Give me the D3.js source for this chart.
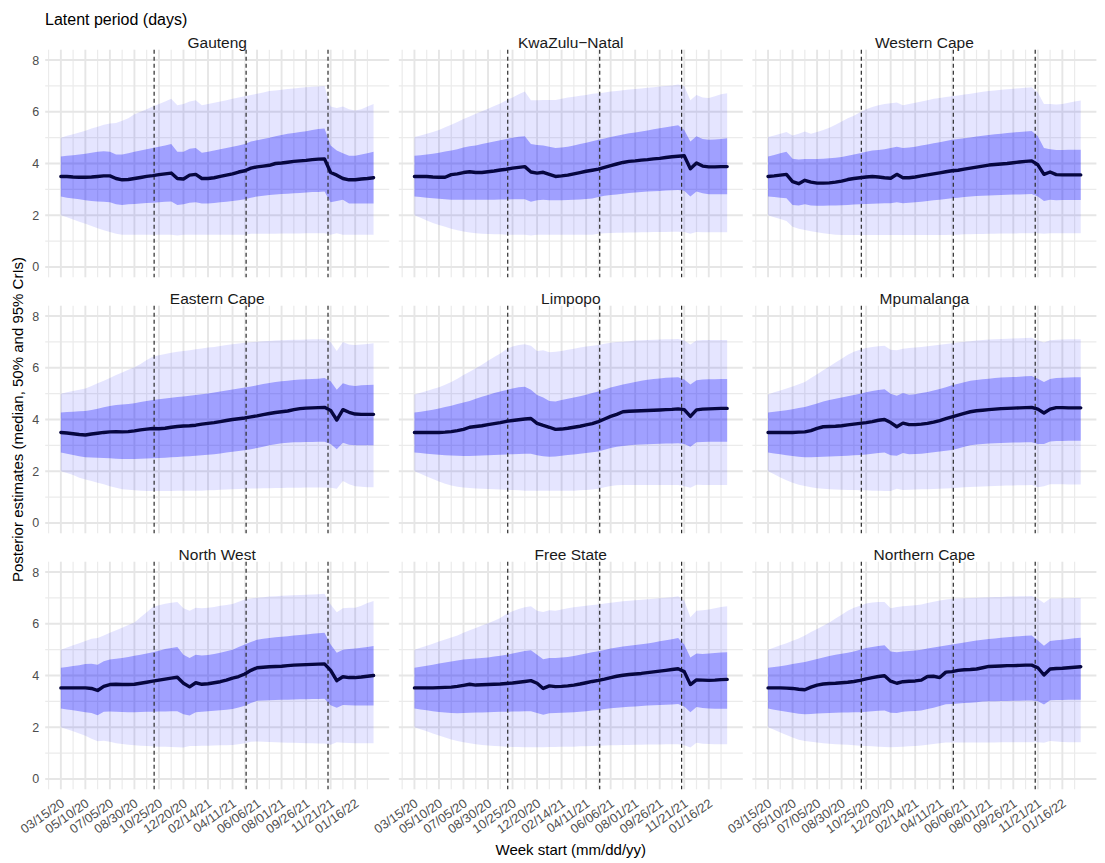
<!DOCTYPE html>
<html><head><meta charset="utf-8">
<script src="https://cdn.jsdelivr.net/npm/d3@7"></script>
<style>
body{margin:0;background:#fff}
svg{display:block}
text{font-family:"Liberation Sans",Arial,Helvetica,sans-serif}
</style>
</head><body>
<svg id="c" width="1105" height="863"></svg>
<script>
// ---------------- DATA ----------------
const weeks = ["2020-03-15","2020-03-29","2020-04-12","2020-04-26","2020-05-10","2020-05-24","2020-06-07","2020-06-21","2020-07-05","2020-07-19","2020-08-02","2020-08-16","2020-08-30","2020-09-13","2020-09-27","2020-10-11","2020-10-25","2020-11-08","2020-11-22","2020-12-06","2020-12-20","2021-01-03","2021-01-17","2021-01-31","2021-02-14","2021-02-28","2021-03-14","2021-03-28","2021-04-11","2021-04-25","2021-05-09","2021-05-23","2021-06-06","2021-06-20","2021-07-04","2021-07-18","2021-08-01","2021-08-15","2021-08-29","2021-09-12","2021-09-26","2021-10-10","2021-10-24","2021-11-07","2021-11-21","2021-12-05","2021-12-19","2022-01-02","2022-01-16","2022-01-30","2022-02-13","2022-02-27"];
const tickDates = ["2020-03-15","2020-05-10","2020-07-05","2020-08-30","2020-10-25","2020-12-20","2021-02-14","2021-04-11","2021-06-06","2021-08-01","2021-09-26","2021-11-21","2022-01-16"];
const tickLabels = ["03/15/20","05/10/20","07/05/20","08/30/20","10/25/20","12/20/20","02/14/21","04/11/21","06/06/21","08/01/21","09/26/21","11/21/21","01/16/22"];
const yTicks = [0,2,4,6,8];
const vlineDates = ["2020-10-14","2021-05-12","2021-11-15"];
const provinces = ["Gauteng","KwaZulu\u2212Natal","Western Cape","Eastern Cape","Limpopo","Mpumalanga","North West","Free State","Northern Cape"];

const gautengMed  = [3.5,3.5,3.48,3.47,3.47,3.48,3.5,3.52,3.52,3.42,3.37,3.38,3.42,3.46,3.5,3.53,3.57,3.6,3.63,3.42,3.4,3.55,3.58,3.42,3.42,3.45,3.5,3.55,3.6,3.67,3.72,3.82,3.87,3.9,3.93,4.0,4.02,4.05,4.08,4.1,4.12,4.15,4.17,4.18,3.65,3.55,3.42,3.37,3.37,3.4,3.42,3.45];
const gautengLo50 = [2.72,2.68,2.65,2.62,2.58,2.55,2.53,2.52,2.5,2.42,2.4,2.42,2.43,2.45,2.47,2.48,2.5,2.52,2.53,2.4,2.42,2.48,2.5,2.45,2.45,2.47,2.5,2.52,2.55,2.58,2.62,2.68,2.72,2.75,2.78,2.8,2.82,2.83,2.85,2.86,2.88,2.9,2.9,2.92,2.5,2.55,2.6,2.45,2.45,2.45,2.45,2.45];
const gautengHi50 = [4.27,4.3,4.32,4.35,4.38,4.42,4.45,4.47,4.45,4.35,4.35,4.4,4.45,4.5,4.55,4.6,4.65,4.7,4.75,4.45,4.45,4.57,4.6,4.42,4.45,4.5,4.55,4.6,4.65,4.7,4.75,4.85,4.9,4.95,5.0,5.05,5.1,5.15,5.18,5.22,5.25,5.3,5.33,5.35,4.7,4.5,4.4,4.3,4.3,4.35,4.4,4.45];
const gautengLo95 = [2.0,1.92,1.83,1.75,1.67,1.58,1.5,1.42,1.35,1.28,1.25,1.25,1.25,1.25,1.25,1.25,1.25,1.25,1.25,1.22,1.25,1.25,1.25,1.25,1.25,1.25,1.25,1.25,1.25,1.25,1.25,1.28,1.28,1.28,1.28,1.28,1.29,1.29,1.29,1.29,1.3,1.3,1.3,1.3,1.25,1.3,1.25,1.25,1.25,1.25,1.25,1.25];
const gautengHi95 = [5.0,5.07,5.13,5.2,5.27,5.35,5.42,5.5,5.55,5.57,5.65,5.75,5.9,6.0,6.1,6.2,6.3,6.4,6.5,6.25,6.3,6.4,6.45,6.25,6.3,6.35,6.4,6.45,6.5,6.55,6.6,6.65,6.7,6.75,6.8,6.82,6.85,6.88,6.9,6.93,6.95,6.97,6.98,7.0,6.2,6.15,6.2,6.1,6.05,6.1,6.2,6.3];

const kznMed  = [3.5,3.5,3.5,3.48,3.47,3.47,3.57,3.6,3.65,3.68,3.65,3.65,3.68,3.71,3.75,3.78,3.82,3.85,3.88,3.67,3.63,3.66,3.58,3.5,3.52,3.55,3.6,3.65,3.7,3.74,3.78,3.85,3.92,3.98,4.04,4.08,4.1,4.13,4.15,4.18,4.2,4.23,4.26,4.28,4.3,3.8,4.02,3.9,3.87,3.87,3.88,3.88];
const kznLo50 = [2.72,2.7,2.68,2.66,2.64,2.62,2.6,2.6,2.6,2.6,2.6,2.6,2.6,2.6,2.61,2.61,2.62,2.62,2.62,2.52,2.58,2.6,2.58,2.58,2.58,2.59,2.6,2.61,2.63,2.65,2.7,2.75,2.78,2.8,2.83,2.86,2.88,2.9,2.92,2.93,2.94,2.96,2.97,2.98,2.95,2.72,2.92,2.85,2.81,2.81,2.81,2.81];
const kznHi50 = [4.3,4.32,4.35,4.38,4.42,4.46,4.5,4.55,4.62,4.67,4.7,4.75,4.8,4.85,4.9,4.95,5.0,5.03,5.05,4.75,4.72,4.7,4.65,4.6,4.62,4.65,4.7,4.75,4.8,4.86,4.92,4.97,5.02,5.07,5.12,5.17,5.2,5.24,5.28,5.32,5.36,5.4,5.44,5.48,5.3,4.85,5.05,4.95,4.92,4.93,4.95,4.98];
const kznLo95 = [2.0,1.9,1.8,1.7,1.62,1.55,1.48,1.42,1.37,1.33,1.3,1.28,1.27,1.26,1.26,1.25,1.25,1.25,1.25,1.22,1.25,1.25,1.25,1.25,1.25,1.25,1.25,1.25,1.25,1.25,1.28,1.3,1.31,1.32,1.32,1.33,1.33,1.34,1.34,1.35,1.35,1.35,1.36,1.36,1.35,1.28,1.35,1.34,1.34,1.34,1.34,1.34];
const kznHi95 = [5.02,5.08,5.15,5.22,5.3,5.4,5.5,5.6,5.72,5.82,5.92,6.02,6.12,6.22,6.32,6.45,6.55,6.68,6.78,6.45,6.45,6.46,6.46,6.46,6.5,6.55,6.58,6.62,6.65,6.7,6.72,6.75,6.78,6.8,6.83,6.86,6.88,6.9,6.93,6.95,6.98,7.0,7.02,7.05,7.0,6.45,6.65,6.55,6.53,6.6,6.68,6.72];

const wcapeMed  = [3.5,3.52,3.55,3.58,3.3,3.22,3.35,3.28,3.24,3.24,3.25,3.28,3.32,3.38,3.42,3.45,3.48,3.5,3.48,3.45,3.43,3.58,3.45,3.45,3.48,3.52,3.56,3.6,3.64,3.68,3.72,3.74,3.78,3.82,3.86,3.9,3.94,3.96,3.98,4.0,4.03,4.06,4.08,4.1,3.95,3.58,3.67,3.57,3.56,3.56,3.56,3.56];
const wcapeLo50 = [2.72,2.7,2.68,2.66,2.4,2.38,2.42,2.38,2.37,2.37,2.38,2.38,2.39,2.4,2.41,2.42,2.43,2.44,2.45,2.46,2.46,2.5,2.46,2.48,2.5,2.52,2.55,2.58,2.6,2.63,2.66,2.68,2.7,2.72,2.74,2.75,2.76,2.77,2.78,2.79,2.8,2.8,2.81,2.82,2.72,2.55,2.6,2.58,2.59,2.59,2.59,2.59];
const wcapeHi50 = [4.27,4.33,4.4,4.45,4.18,4.15,4.17,4.17,4.17,4.18,4.2,4.22,4.25,4.3,4.35,4.4,4.45,4.5,4.52,4.55,4.6,4.65,4.6,4.62,4.65,4.7,4.73,4.78,4.82,4.87,4.92,4.95,4.98,5.01,5.04,5.07,5.1,5.13,5.15,5.18,5.2,5.22,5.24,5.26,5.05,4.6,4.55,4.52,4.52,4.53,4.53,4.53];
const wcapeLo95 = [2.0,1.92,1.85,1.78,1.55,1.48,1.43,1.38,1.34,1.3,1.27,1.25,1.24,1.24,1.24,1.24,1.24,1.24,1.24,1.24,1.24,1.24,1.24,1.24,1.24,1.24,1.24,1.24,1.24,1.24,1.25,1.25,1.26,1.26,1.27,1.27,1.28,1.28,1.29,1.29,1.29,1.3,1.3,1.3,1.3,1.28,1.3,1.3,1.3,1.3,1.3,1.3];
const wcapeHi95 = [5.02,5.08,5.15,5.22,5.08,5.15,5.24,5.15,5.22,5.3,5.38,5.5,5.62,5.75,5.85,5.98,6.1,6.18,6.25,6.3,6.33,6.36,6.25,6.3,6.35,6.4,6.45,6.5,6.53,6.57,6.6,6.63,6.67,6.7,6.74,6.77,6.8,6.82,6.85,6.87,6.89,6.91,6.93,6.95,6.75,6.3,6.3,6.28,6.3,6.35,6.4,6.44];

const ecapeMed  = [3.5,3.48,3.45,3.42,3.4,3.44,3.47,3.5,3.52,3.53,3.52,3.53,3.56,3.6,3.63,3.65,3.64,3.66,3.7,3.73,3.75,3.76,3.78,3.82,3.85,3.88,3.92,3.96,4.0,4.03,4.06,4.1,4.14,4.19,4.23,4.27,4.3,4.33,4.38,4.42,4.44,4.45,4.46,4.47,4.35,3.98,4.38,4.28,4.21,4.2,4.2,4.2];
const ecapeLo50 = [2.72,2.68,2.63,2.58,2.54,2.53,2.52,2.51,2.5,2.48,2.47,2.47,2.47,2.48,2.49,2.5,2.51,2.52,2.54,2.55,2.57,2.58,2.6,2.62,2.64,2.66,2.69,2.72,2.75,2.78,2.81,2.85,2.9,2.95,3.0,3.04,3.08,3.1,3.12,3.12,3.13,3.13,3.14,3.14,3.05,2.85,3.1,3.02,3.0,3.0,3.0,3.0];
const ecapeHi50 = [4.27,4.29,4.3,4.32,4.33,4.37,4.42,4.47,4.52,4.56,4.58,4.6,4.63,4.68,4.72,4.75,4.78,4.81,4.84,4.87,4.89,4.92,4.95,4.98,5.01,5.04,5.08,5.12,5.16,5.2,5.24,5.28,5.32,5.37,5.41,5.45,5.48,5.5,5.53,5.55,5.56,5.57,5.58,5.6,5.48,5.15,5.4,5.32,5.3,5.32,5.33,5.34];
const ecapeLo95 = [2.0,1.93,1.85,1.75,1.68,1.62,1.55,1.5,1.42,1.36,1.3,1.28,1.26,1.25,1.24,1.24,1.24,1.24,1.24,1.25,1.25,1.25,1.25,1.25,1.26,1.26,1.28,1.29,1.3,1.31,1.32,1.33,1.33,1.34,1.34,1.35,1.35,1.36,1.36,1.36,1.37,1.37,1.37,1.37,1.36,1.32,1.62,1.5,1.42,1.4,1.38,1.38];
const ecapeHi95 = [5.0,5.05,5.1,5.15,5.2,5.3,5.4,5.5,5.6,5.72,5.82,5.92,6.02,6.15,6.3,6.43,6.48,6.53,6.58,6.62,6.65,6.68,6.72,6.75,6.78,6.8,6.84,6.88,6.91,6.94,6.97,6.99,7.01,7.03,7.04,7.05,7.06,7.07,7.08,7.08,7.09,7.1,7.1,7.1,7.0,6.65,7.0,6.9,6.88,6.9,6.92,6.95];

const limpopoMed  = [3.5,3.5,3.5,3.5,3.5,3.51,3.53,3.57,3.62,3.7,3.73,3.76,3.8,3.84,3.88,3.93,3.96,3.99,4.02,4.04,3.85,3.77,3.7,3.62,3.63,3.66,3.7,3.74,3.79,3.84,3.92,4.02,4.12,4.2,4.3,4.32,4.33,4.34,4.35,4.36,4.37,4.38,4.39,4.41,4.38,4.12,4.37,4.4,4.41,4.42,4.43,4.43];
const limpopoLo50 = [2.72,2.7,2.68,2.66,2.64,2.62,2.61,2.6,2.59,2.59,2.6,2.61,2.62,2.63,2.64,2.65,2.66,2.67,2.68,2.68,2.62,2.58,2.56,2.57,2.6,2.63,2.65,2.68,2.7,2.73,2.76,2.83,2.9,2.95,2.98,3.0,3.02,3.03,3.04,3.05,3.06,3.07,3.07,3.08,3.05,2.95,3.12,3.13,3.14,3.14,3.14,3.14];
const limpopoHi50 = [4.27,4.3,4.34,4.38,4.43,4.48,4.53,4.6,4.66,4.72,4.8,4.88,4.95,5.02,5.08,5.14,5.2,5.25,5.27,5.15,4.95,4.85,4.72,4.7,4.75,4.8,4.85,4.9,4.96,5.02,5.08,5.16,5.24,5.3,5.35,5.4,5.45,5.5,5.54,5.57,5.59,5.61,5.62,5.63,5.55,5.35,5.52,5.55,5.56,5.56,5.57,5.57];
const limpopoLo95 = [2.0,1.9,1.8,1.7,1.6,1.52,1.45,1.4,1.37,1.35,1.33,1.32,1.31,1.3,1.29,1.28,1.27,1.26,1.25,1.25,1.25,1.25,1.25,1.25,1.25,1.25,1.25,1.26,1.27,1.29,1.32,1.38,1.43,1.46,1.47,1.47,1.47,1.47,1.47,1.47,1.47,1.47,1.47,1.47,1.42,1.36,1.48,1.47,1.47,1.47,1.47,1.47];
const limpopoHi95 = [4.97,5.03,5.1,5.18,5.25,5.34,5.45,5.58,5.72,5.85,5.98,6.12,6.27,6.42,6.55,6.72,6.82,6.88,6.91,6.85,6.65,6.68,6.6,6.62,6.65,6.7,6.74,6.78,6.82,6.85,6.88,6.93,6.97,7.0,7.01,7.03,7.05,7.06,7.07,7.08,7.09,7.1,7.1,7.11,7.05,6.9,7.05,7.07,7.07,7.07,7.07,7.07];

const mpumaMed  = [3.5,3.5,3.5,3.5,3.5,3.51,3.52,3.57,3.66,3.72,3.73,3.74,3.76,3.79,3.82,3.85,3.88,3.92,3.97,4.0,3.88,3.72,3.86,3.8,3.8,3.82,3.85,3.9,3.96,4.03,4.1,4.17,4.24,4.3,4.34,4.36,4.38,4.4,4.42,4.43,4.44,4.45,4.46,4.47,4.4,4.25,4.4,4.46,4.46,4.45,4.45,4.45];
const mpumaLo50 = [2.72,2.69,2.66,2.62,2.59,2.56,2.54,2.54,2.55,2.56,2.57,2.58,2.59,2.6,2.62,2.63,2.65,2.68,2.7,2.72,2.62,2.6,2.7,2.66,2.67,2.68,2.7,2.73,2.76,2.79,2.82,2.88,2.95,3.0,3.03,3.05,3.07,3.08,3.09,3.1,3.11,3.11,3.12,3.12,3.05,3.05,3.15,3.17,3.17,3.18,3.18,3.18];
const mpumaHi50 = [4.27,4.3,4.33,4.36,4.4,4.44,4.48,4.55,4.62,4.7,4.75,4.8,4.85,4.9,4.95,5.0,5.05,5.1,5.14,5.17,5.0,4.92,5.02,4.96,4.98,5.02,5.06,5.12,5.18,5.25,5.32,5.38,5.44,5.5,5.53,5.56,5.58,5.6,5.62,5.63,5.64,5.65,5.67,5.68,5.58,5.45,5.57,5.6,5.61,5.62,5.63,5.63];
const mpumaLo95 = [2.0,1.88,1.76,1.65,1.55,1.48,1.43,1.38,1.34,1.32,1.3,1.29,1.28,1.27,1.27,1.26,1.26,1.25,1.25,1.24,1.24,1.32,1.27,1.28,1.29,1.3,1.3,1.31,1.32,1.33,1.34,1.36,1.38,1.39,1.4,1.41,1.42,1.43,1.44,1.45,1.45,1.46,1.46,1.47,1.38,1.42,1.5,1.5,1.5,1.49,1.49,1.49];
const mpumaHi95 = [4.97,5.05,5.12,5.2,5.28,5.36,5.45,5.6,5.75,5.9,6.05,6.2,6.35,6.5,6.62,6.7,6.76,6.8,6.83,6.85,6.7,6.68,6.74,6.76,6.78,6.8,6.83,6.86,6.89,6.92,6.95,6.98,7.01,7.03,7.05,7.07,7.09,7.1,7.11,7.12,7.13,7.14,7.15,7.16,7.05,6.98,7.06,7.08,7.09,7.1,7.1,7.1];

const nwestMed  = [3.52,3.52,3.52,3.52,3.52,3.5,3.42,3.58,3.65,3.66,3.65,3.65,3.66,3.7,3.74,3.78,3.82,3.86,3.9,3.93,3.7,3.56,3.72,3.66,3.68,3.72,3.76,3.82,3.9,3.96,4.06,4.2,4.3,4.32,4.34,4.35,4.36,4.38,4.4,4.41,4.42,4.43,4.44,4.45,4.2,3.8,3.95,3.92,3.92,3.94,3.97,4.0];
const nwestLo50 = [2.72,2.69,2.66,2.62,2.58,2.55,2.46,2.6,2.61,2.6,2.59,2.58,2.58,2.59,2.6,2.6,2.61,2.61,2.62,2.62,2.5,2.45,2.58,2.6,2.62,2.64,2.66,2.68,2.7,2.76,2.83,2.94,3.02,3.03,3.04,3.05,3.06,3.06,3.07,3.08,3.08,3.09,3.09,3.1,2.85,2.75,2.86,2.85,2.84,2.84,2.84,2.84];
const nwestHi50 = [4.3,4.33,4.37,4.4,4.44,4.45,4.42,4.55,4.62,4.65,4.68,4.72,4.76,4.8,4.85,4.9,4.96,5.02,5.06,5.1,4.8,4.68,4.8,4.77,4.79,4.83,4.88,4.94,5.0,5.1,5.2,5.3,5.38,5.42,5.45,5.48,5.5,5.52,5.55,5.57,5.59,5.61,5.63,5.65,5.2,4.88,5.0,5.02,5.04,5.07,5.1,5.14];
const nwestLo95 = [2.0,1.92,1.84,1.76,1.67,1.55,1.46,1.48,1.44,1.38,1.35,1.32,1.3,1.28,1.27,1.26,1.25,1.25,1.24,1.23,1.22,1.27,1.27,1.28,1.28,1.29,1.3,1.3,1.31,1.34,1.38,1.44,1.45,1.44,1.43,1.42,1.41,1.4,1.4,1.39,1.38,1.38,1.37,1.37,1.32,1.42,1.4,1.39,1.38,1.38,1.38,1.38];
const nwestHi95 = [5.0,5.08,5.17,5.25,5.33,5.42,5.45,5.55,5.65,5.75,5.85,5.95,6.05,6.25,6.45,6.65,6.72,6.77,6.81,6.84,6.6,6.5,6.62,6.6,6.62,6.65,6.7,6.73,6.76,6.85,6.94,6.98,7.01,7.03,7.05,7.06,7.08,7.09,7.1,7.11,7.12,7.13,7.14,7.16,6.75,6.45,6.6,6.62,6.62,6.7,6.8,6.88];

const fstateMed  = [3.52,3.52,3.52,3.52,3.53,3.54,3.55,3.58,3.62,3.66,3.63,3.64,3.65,3.66,3.67,3.69,3.71,3.74,3.77,3.8,3.7,3.5,3.6,3.57,3.58,3.6,3.63,3.67,3.72,3.77,3.81,3.86,3.92,3.97,4.01,4.04,4.06,4.08,4.11,4.14,4.17,4.2,4.23,4.26,4.15,3.65,3.83,3.82,3.81,3.82,3.84,3.85];
const fstateLo50 = [2.72,2.69,2.66,2.62,2.59,2.57,2.55,2.54,2.55,2.56,2.57,2.57,2.58,2.59,2.6,2.6,2.61,2.61,2.62,2.62,2.55,2.48,2.54,2.55,2.56,2.57,2.58,2.6,2.62,2.65,2.67,2.7,2.73,2.75,2.77,2.79,2.8,2.82,2.84,2.85,2.86,2.87,2.88,2.9,2.8,2.58,2.78,2.74,2.72,2.71,2.71,2.71];
const fstateHi50 = [4.3,4.34,4.38,4.42,4.46,4.5,4.54,4.58,4.62,4.64,4.66,4.68,4.7,4.73,4.76,4.8,4.85,4.9,4.95,4.98,4.8,4.63,4.68,4.68,4.7,4.72,4.75,4.8,4.85,4.9,4.94,4.99,5.04,5.08,5.12,5.15,5.18,5.21,5.24,5.28,5.32,5.36,5.4,5.45,5.2,4.7,4.85,4.83,4.85,4.87,4.89,4.9];
const fstateLo95 = [2.0,1.92,1.84,1.76,1.68,1.6,1.53,1.47,1.42,1.38,1.34,1.31,1.29,1.27,1.26,1.25,1.24,1.24,1.23,1.23,1.23,1.23,1.24,1.24,1.25,1.25,1.25,1.26,1.26,1.27,1.28,1.29,1.3,1.3,1.31,1.31,1.32,1.32,1.33,1.33,1.33,1.34,1.34,1.34,1.3,1.22,1.4,1.36,1.35,1.34,1.34,1.34];
const fstateHi95 = [5.0,5.07,5.15,5.23,5.31,5.39,5.47,5.55,5.65,5.75,5.84,5.93,6.02,6.12,6.22,6.38,6.48,6.57,6.64,6.68,6.5,6.46,6.52,6.5,6.55,6.6,6.64,6.67,6.7,6.73,6.75,6.78,6.81,6.84,6.87,6.89,6.91,6.93,6.95,6.97,6.99,7.01,7.03,7.06,6.9,6.25,6.5,6.52,6.55,6.6,6.65,6.68];

const ncapeMed  = [3.52,3.52,3.52,3.51,3.5,3.47,3.45,3.55,3.63,3.67,3.69,3.7,3.72,3.74,3.77,3.81,3.87,3.92,3.96,3.99,3.78,3.7,3.76,3.78,3.79,3.82,3.96,3.97,3.92,4.13,4.15,4.2,4.22,4.23,4.25,4.3,4.35,4.36,4.37,4.38,4.38,4.39,4.4,4.4,4.3,4.02,4.25,4.27,4.28,4.3,4.32,4.34];
const ncapeLo50 = [2.72,2.68,2.64,2.6,2.56,2.52,2.5,2.51,2.53,2.54,2.55,2.56,2.57,2.57,2.58,2.58,2.6,2.62,2.64,2.65,2.56,2.55,2.6,2.62,2.63,2.65,2.7,2.75,2.82,2.89,2.9,2.92,2.94,2.95,2.97,2.99,3.0,3.0,3.01,3.01,3.02,3.02,3.03,3.03,3.0,2.88,3.04,3.05,3.05,3.06,3.06,3.06];
const ncapeHi50 = [4.3,4.33,4.36,4.4,4.44,4.48,4.52,4.58,4.64,4.7,4.75,4.8,4.84,4.88,4.93,5.0,5.06,5.1,5.14,5.17,4.93,4.9,4.93,4.95,4.97,5.0,5.04,5.08,5.12,5.16,5.2,5.24,5.28,5.31,5.35,5.38,5.41,5.43,5.46,5.48,5.5,5.52,5.54,5.55,5.35,5.15,5.33,5.36,5.38,5.41,5.44,5.46];
const ncapeLo95 = [2.0,1.9,1.8,1.7,1.6,1.52,1.47,1.44,1.41,1.38,1.36,1.34,1.33,1.32,1.3,1.28,1.27,1.26,1.25,1.24,1.23,1.24,1.25,1.26,1.27,1.29,1.32,1.35,1.38,1.41,1.41,1.41,1.41,1.41,1.41,1.41,1.41,1.41,1.42,1.42,1.42,1.42,1.42,1.42,1.42,1.4,1.47,1.45,1.43,1.42,1.42,1.42];
const ncapeHi95 = [5.0,5.08,5.17,5.25,5.34,5.43,5.55,5.68,5.8,5.92,6.05,6.2,6.35,6.5,6.62,6.7,6.78,6.82,6.84,6.84,6.6,6.65,6.68,6.7,6.72,6.75,6.8,6.85,6.9,6.94,6.97,6.98,6.99,7.0,7.01,7.02,7.03,7.04,7.04,7.05,7.05,7.06,7.06,7.07,6.97,6.8,6.98,6.98,6.99,6.99,7.0,7.0];

// ---------------- BUILD TABLE ----------------
const seriesSets = [
  [gautengLo95,gautengLo50,gautengMed,gautengHi50,gautengHi95],
  [kznLo95,kznLo50,kznMed,kznHi50,kznHi95],
  [wcapeLo95,wcapeLo50,wcapeMed,wcapeHi50,wcapeHi95],
  [ecapeLo95,ecapeLo50,ecapeMed,ecapeHi50,ecapeHi95],
  [limpopoLo95,limpopoLo50,limpopoMed,limpopoHi50,limpopoHi95],
  [mpumaLo95,mpumaLo50,mpumaMed,mpumaHi50,mpumaHi95],
  [nwestLo95,nwestLo50,nwestMed,nwestHi50,nwestHi95],
  [fstateLo95,fstateLo50,fstateMed,fstateHi50,fstateHi95],
  [ncapeLo95,ncapeLo50,ncapeMed,ncapeHi50,ncapeHi95]
];
const parse = d3.utcParse("%Y-%m-%d");
const dates = weeks.map(parse);
const panels = provinces.map((name,k)=>({
  name,
  rows: dates.map((d,i)=>({date:d, lo95:seriesSets[k][0][i], lo50:seriesSets[k][1][i], med:seriesSets[k][2][i], hi50:seriesSets[k][3][i], hi95:seriesSets[k][4][i]}))
}));

// ---------------- LAYOUT ----------------
const svg = d3.select("#c");
const PW = 344, PH = 227.6;
const colL = [45.2, 398.8, 752.4];
const rowT = [49.7, 305.7, 561.7];
const d0 = dates[0], d1 = dates[dates.length-1];
const span = d1 - d0;
const xDomain = [new Date(+d0 - 0.05*span), new Date(+d1 + 0.05*span)];
const yDomain = [-0.4, 8.4];
const majorDates = tickDates.map(parse);
const gridDates = d3.range(-1, 26).map(k => d3.utcDay.offset(majorDates[0], 28*k));
const minorDates = gridDates.filter(d => !majorDates.some(m => +m === +d));
const yMinor = [1,3,5,7];
const FONT = '"Liberation Sans",Arial,Helvetica,sans-serif';

panels.forEach((p,k)=>{
  const c = k % 3, r = Math.floor(k/3);
  const x = d3.scaleUtc().domain(xDomain).range([colL[c], colL[c]+PW]);
  const y = d3.scaleLinear().domain(yDomain).range([rowT[r]+PH, rowT[r]]);
  const g = svg.append("g");
  const [x0,x1] = x.range(), [yb,yt] = y.range();
  const inX = d => x(d) >= x0 && x(d) <= x1;

  // grid
  g.selectAll(".hmin").data(yMinor).join("line")
    .attr("x1",x0).attr("x2",x1).attr("y1",d=>y(d)).attr("y2",d=>y(d))
    .attr("stroke","#EBEBEB").attr("stroke-width",1.2);
  g.selectAll(".vmin").data(minorDates.filter(inX)).join("line")
    .attr("y1",yt).attr("y2",yb).attr("x1",d=>x(d)).attr("x2",d=>x(d))
    .attr("stroke","#EBEBEB").attr("stroke-width",1.2);
  g.selectAll(".hmaj").data(yTicks).join("line")
    .attr("x1",x0).attr("x2",x1).attr("y1",d=>y(d)).attr("y2",d=>y(d))
    .attr("stroke","#E6E6E6").attr("stroke-width",1.9);
  g.selectAll(".vmaj").data(majorDates).join("line")
    .attr("y1",yt).attr("y2",yb).attr("x1",d=>x(d)).attr("x2",d=>x(d))
    .attr("stroke","#E6E6E6").attr("stroke-width",1.9);

  // ribbons
  const area95 = d3.area().x(d=>x(d.date)).y0(d=>y(d.lo95)).y1(d=>y(d.hi95));
  const area50 = d3.area().x(d=>x(d.date)).y0(d=>y(d.lo50)).y1(d=>y(d.hi50));
  g.append("path").datum(p.rows).attr("d",area95).attr("fill","#0000FF").attr("fill-opacity",0.1);
  g.append("path").datum(p.rows).attr("d",area50).attr("fill","#0000FF").attr("fill-opacity",0.3);

  // dashed lines
  g.selectAll(".vl").data(vlineDates.map(parse)).join("line")
    .attr("x1",d=>x(d)).attr("x2",d=>x(d)).attr("y1",yt).attr("y2",yb)
    .attr("stroke","#2b2b2b").attr("stroke-width",1.2).attr("stroke-dasharray","4,3");

  // median
  const line = d3.line().x(d=>x(d.date)).y(d=>y(d.med));
  g.append("path").datum(p.rows).attr("d",line).attr("fill","none")
    .attr("stroke","#06063f").attr("stroke-width",3.4).attr("stroke-linejoin","round").attr("stroke-linecap","round");

  // strip title
  g.append("text").attr("x",(x0+x1)/2).attr("y",rowT[r]-1.5).attr("text-anchor","middle")
    .attr("font-size",15.5).attr("fill","#1a1a1a").text(p.name);

  // y axis (left column)
  if (c === 0) {
    const ax = g.append("g").attr("transform",`translate(${x0},0)`)
      .call(d3.axisLeft(y).tickValues(yTicks).tickSize(0).tickPadding(6).tickFormat(d3.format("d")));
    ax.select(".domain").remove();
    ax.selectAll("text").attr("font-size",12.5).attr("fill","#4d4d4d").attr("font-family",FONT);
  }
  // x axis (bottom row)
  if (r === 2) {
    const ax = g.append("g").attr("transform",`translate(0,${yb})`)
      .call(d3.axisBottom(x).tickValues(majorDates).tickSize(0).tickFormat((d,i)=>tickLabels[i]));
    ax.select(".domain").remove();
    ax.selectAll("text").attr("font-size",12.8).attr("fill","#4d4d4d").attr("font-family",FONT)
      .attr("text-anchor","end").attr("y",0).attr("dy",null)
      .attr("transform","translate(4,16) rotate(-35)");
  }
});

// titles
svg.append("text").attr("x",45).attr("y",24.5).attr("font-size",16).attr("fill","#000").text("Latent period (days)");
svg.append("text").attr("x",(colL[0]+colL[2]+PW)/2).attr("y",855).attr("text-anchor","middle")
  .attr("font-size",15).attr("fill","#000").text("Week start (mm/dd/yy)");
svg.append("text").attr("transform",`translate(23,${(rowT[0]+rowT[2]+PH)/2}) rotate(-90)`).attr("text-anchor","middle")
  .attr("font-size",15).attr("fill","#000").text("Posterior estimates (median, 50% and 95% CrIs)");
</script>
</body></html>
